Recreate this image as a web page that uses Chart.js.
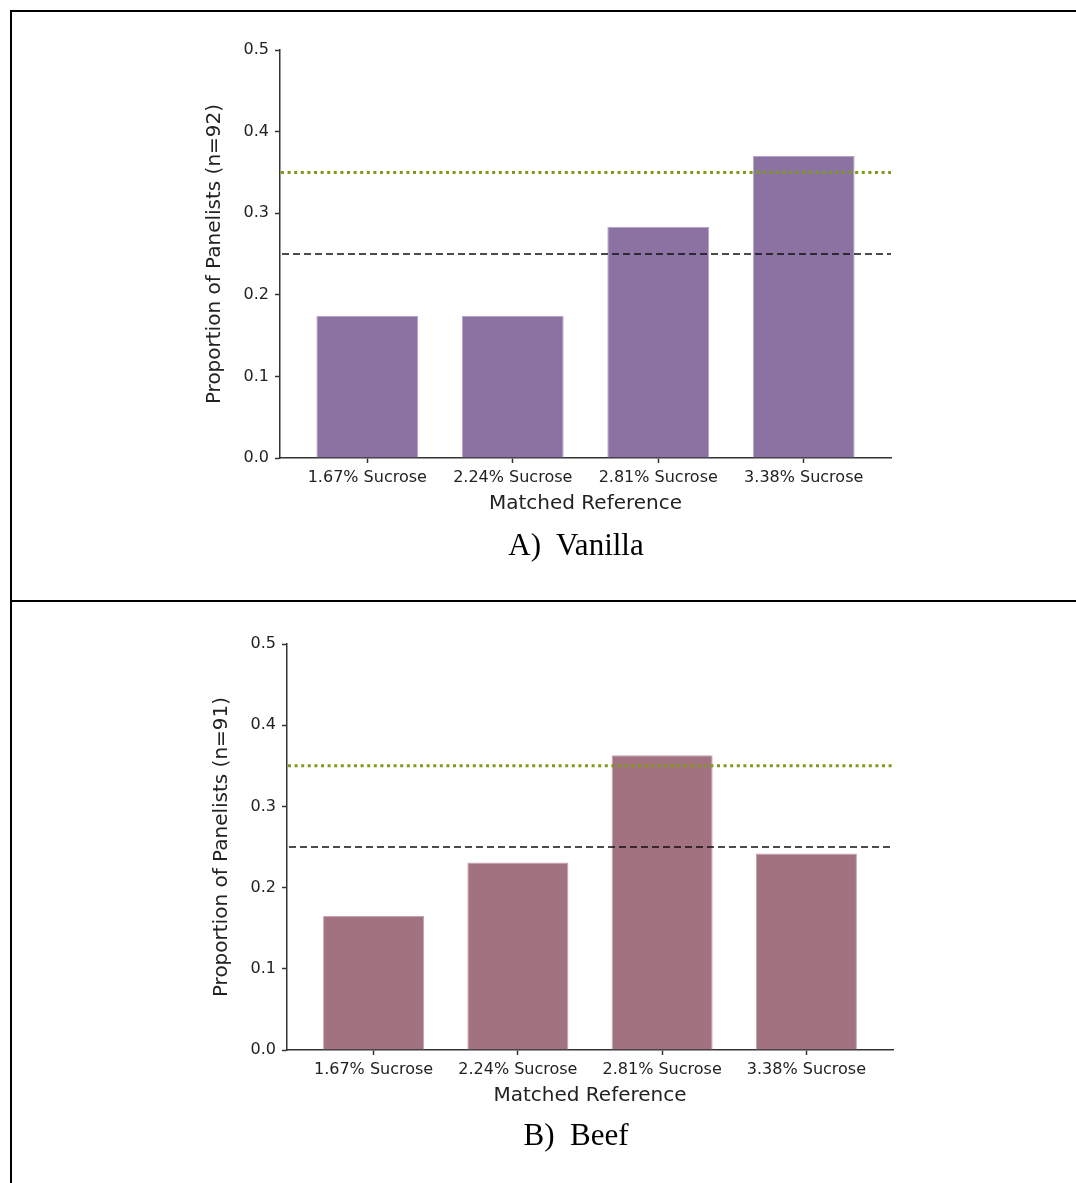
<!DOCTYPE html>
<html>
<head>
<meta charset="utf-8">
<script src="https://cdn.jsdelivr.net/npm/chart.js@4"></script>
<style>
  body { margin: 0; background: #fff; width: 1076px; height: 1183px; position: relative; overflow: hidden; }
  .frame { position: absolute; left: 10px; top: 10px; width: 1100px; height: 1200px; border-left: 2px solid #000; border-top: 2px solid #000; }
  .divider { position: absolute; left: 10px; top: 600px; width: 1100px; height: 2px; background: #000; }
  .cell { position: absolute; left: 12px; width: 1064px; }
  .caption { position: absolute; left: 376px; width: 400px; text-align: center; font-family: "Liberation Serif", "Times New Roman", serif; font-size: 31px; white-space: pre; color: #000; }
</style>
</head>
<body>
<div class="frame"></div>
<div class="divider"></div>
<div class="cell" style="top:12px;height:588px"><canvas id="chartA"></canvas></div>
<div class="cell" style="top:602px;height:581px"><canvas id="chartB"></canvas></div>
<div class="caption" style="top:527px">A)  Vanilla</div>
<div class="caption" style="top:1117px">B)  Beef</div>
<script>
// カテゴリとデータ
const categories = ["1.67% Sucrose", "2.24% Sucrose", "2.81% Sucrose", "3.38% Sucrose"];
const vanillaValues = [0.174, 0.174, 0.283, 0.370];
const beefValues = [0.165, 0.231, 0.363, 0.242];
const yTicks = [0, 0.1, 0.2, 0.3, 0.4, 0.5];
const chanceLevel = [0.25];
const thresholdLevel = [0.35];

// 参照線を描くプラグイン
const refLines = {
  id: "refLines",
  afterDatasetsDraw(chart) {
    const { ctx, chartArea, scales } = chart;
    ctx.save();
    chanceLevel.forEach((v) => {
      const y = scales.y.getPixelForValue(v);
      ctx.strokeStyle = "#111";
      ctx.lineWidth = 1.5;
      ctx.setLineDash([7, 4]);
      ctx.beginPath();
      ctx.moveTo(chartArea.left + 2, y);
      ctx.lineTo(chartArea.right, y);
      ctx.stroke();
    });
    thresholdLevel.forEach((v) => {
      const y = scales.y.getPixelForValue(v);
      ctx.strokeStyle = "#7f9a1a";
      ctx.lineWidth = 3;
      ctx.setLineDash([3, 3.6]);
      ctx.beginPath();
      ctx.moveTo(chartArea.left + 1, y);
      ctx.lineTo(chartArea.right, y);
      ctx.stroke();
    });
    ctx.restore();
  },
};

// チャート作成
function makeChart(id, values, n, fill, edge, pad) {
  const tickFont = { family: "DejaVu Sans", size: 16 };
  const titleFont = { family: "DejaVu Sans", size: 20 };
  return new Chart(document.getElementById(id), {
    type: "bar",
    data: {
      datasets: [{
        data: values.map((v, i) => ({ x: i, y: v })),
        backgroundColor: fill,
        borderColor: edge,
        borderWidth: 1,
        categoryPercentage: 1,
        barPercentage: 0.7,
      }],
    },
    options: {
      responsive: true,
      maintainAspectRatio: false,
      animation: false,
      layout: { padding: pad },
      plugins: { legend: { display: false }, tooltip: { enabled: false } },
      scales: {
        x: {
          type: "linear",
          min: -0.6,
          max: 3.6,
          offset: false,
          afterBuildTicks: (scale) => { scale.ticks = categories.map((_, i) => ({ value: i })); },
          afterFit: (scale) => { scale.height = 62; },
          ticks: {
            callback: (v) => categories[v],
            font: tickFont, color: "#222", padding: 5, maxRotation: 0, autoSkip: false,
          },
          grid: { display: true, drawOnChartArea: false, offset: false, tickLength: 5, color: "#333", tickWidth: 1.5 },
          border: { display: true, color: "#333", width: 1.5 },
          title: { display: true, text: "Matched Reference", font: titleFont, color: "#222", padding: { top: 0, bottom: 4 } },
        },
        y: {
          min: 0,
          max: 0.5,
          afterBuildTicks: (scale) => { scale.ticks = yTicks.map((v) => ({ value: v })); },
          afterFit: (scale) => { scale.width = 80; },
          ticks: { callback: (v) => v.toFixed(1), font: tickFont, color: "#222", padding: 6 },
          grid: { display: true, drawOnChartArea: false, tickLength: 5, color: "#333", tickWidth: 1.5 },
          border: { display: true, color: "#333", width: 1.5 },
          title: { display: true, text: "Proportion of Panelists (n=" + n + ")", font: titleFont, color: "#222", padding: { top: 3, bottom: 0 } },
        },
      },
    },
    plugins: [refLines],
  });
}

makeChart("chartA", vanillaValues, 92, "#8b72a2", "#b6a5c6", { left: 188, right: 185, top: 38, bottom: 80 });
makeChart("chartB", beefValues, 91, "#a37281", "#c4a3ad", { left: 195, right: 183, top: 42, bottom: 71 });
</script>
</body>
</html>
